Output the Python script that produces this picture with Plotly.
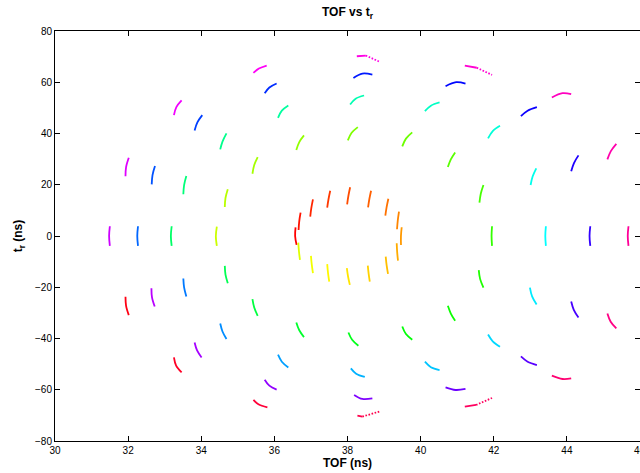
import colorsys
import plotly.graph_objects as go

# Each ring: 16 arcs, each arc given as (start, middle, end) points.
# Arc order: clockwise starting at the left (t_r = 0) end of the ring.
ring1_x = [(36.608, 36.567, 36.58), (36.662, 36.68, 36.717), (36.981, 37.01, 37.055), (37.445, 37.48, 37.527),
           (37.99, 38.025, 38.072), (38.563, 38.598, 38.645), (39.035, 39.07, 39.117), (39.354, 39.375, 39.408),
           (39.463, 39.462, 39.482), (39.346, 39.358, 39.381), (39.045, 39.07, 39.108), (38.555, 38.578, 38.61),
           (37.982, 38.015, 38.064), (37.445, 37.467, 37.5), (37.0, 37.022, 37.055), (36.654, 36.672, 36.70)]
ring1_y = [(-3.48, 0.0, 3.33), (2.36, 5.75, 9.1), (7.54, 10.9, 14.32), (11.05, 14.35, 17.67),
           (12.37, 15.7, 19.0), (11.2, 14.45, 17.67), (7.93, 11.25, 14.55), (2.63, 6.05, 9.49),
           (-3.48, 0.0, 3.41), (-2.82, -6.2, -9.6), (-8.04, -11.4, -14.78), (-11.55, -14.65, -17.78),
           (-12.56, -15.8, -19.07), (-11.0, -14.4, -17.78), (-7.77, -11.1, -14.5), (-2.59, -5.95, -9.33)]

ring2_x = [(34.426, 34.399, 34.426), (34.644, 34.663, 34.726), (35.40, 35.449, 35.544), (36.60, 36.681, 36.81),
           (38.009, 38.113, 38.282), (39.498, 39.599, 39.771), (40.745, 40.826, 40.944), (41.609, 41.645, 41.718),
           (41.953, 41.94, 41.953), (41.59, 41.626, 41.718), (40.745, 40.826, 40.944), (39.498, 39.599, 39.771),
           (38.025, 38.126, 38.298), (36.60, 36.681, 36.81), (35.40, 35.449, 35.544), (34.644, 34.663, 34.726)]
ring2_y = [(3.65, -0.09, -3.87), (11.32, 14.83, 18.22), (24.29, 27.68, 30.8), (33.53, 36.64, 39.25),
           (37.3, 40.26, 42.49), (34.97, 38.0, 40.42), (26.9, 29.9, 32.63), (13.0, 16.5, 19.89),
           (3.8, 0.0, -3.87), (-13.34, -16.73, -20.12), (-27.25, -30.25, -33.09), (-35.31, -38.27, -40.49),
           (-37.65, -40.49, -42.83), (-33.75, -36.79, -39.44), (-24.64, -27.91, -31.14), (-11.66, -15.05, -18.4)]

ring3_x = [(33.191, 33.169, 33.191), (33.51, 33.531, 33.592), (34.519, 34.581, 34.69), (36.10, 36.204, 36.381),
           (38.072, 38.222, 38.454), (40.117, 40.281, 40.518), (41.844, 41.972, 42.171), (43.008, 43.063, 43.163),
           (43.426, 43.41, 43.426), (42.989, 43.049, 43.172), (41.844, 41.972, 42.171), (40.117, 40.281, 40.518),
           (38.091, 38.236, 38.473), (36.10, 36.204, 36.381), (34.519, 34.581, 34.69), (33.51, 33.531, 33.592)]
ring3_y = [(3.8, 0.0, -3.87), (16.27, 19.89, 23.4), (33.8, 36.84, 40.03), (46.11, 48.91, 50.94),
           (51.33, 53.59, 54.83), (48.72, 50.86, 52.11), (38.08, 40.93, 42.99), (19.89, 23.2, 26.4),
           (3.8, 0.0, -3.87), (-20.12, -23.55, -26.74), (-38.43, -41.08, -43.22), (-49.06, -51.2, -52.3),
           (-51.67, -53.74, -55.02), (-46.33, -49.06, -51.28), (-34.14, -37.26, -40.22), (-16.61, -20.04, -23.62)]

ring4_x = [(32.27, 32.25, 32.27), (32.645, 32.667, 32.735), (33.818, 33.894, 34.028), (35.735, 35.863, 36.062),
           (38.162, 38.407, 38.68), (40.682, 40.971, 41.227), (42.743, 42.926, 43.18), (44.118, 44.194, 44.317),
           (44.64, 44.62, 44.64), (44.118, 44.189, 44.317), (42.743, 42.926, 43.18), (40.682, 40.955, 41.227),
           (38.181, 38.407, 38.68), (35.735, 35.863, 36.062), (33.818, 33.886, 34.009), (32.637, 32.653, 32.727)]
ring4_y = [(3.8, 0.0, -3.87), (20.16, 23.79, 27.29), (41.2, 44.32, 47.16), (55.73, 57.95, 59.51),
           (61.69, 63.4, 63.02), (58.46, 60.02, 59.51), (46.77, 48.91, 50.28), (25.23, 28.46, 31.46),
           (3.8, 0.0, -3.87), (-25.57, -28.8, -31.8), (-47.0, -49.06, -50.35), (-59.07, -60.09, -59.7),
           (-62.03, -63.59, -63.36), (-56.07, -58.41, -59.97), (-41.54, -44.66, -47.39), (-20.35, -23.93, -27.52)]

ring5_x = [(31.50, 31.48, 31.50), (31.928, 31.944, 32.018), (33.253, 33.319, 33.463), (35.427, 35.577, 35.79),
           (38.255, 38.5, 38.89), (41.208, 41.535, 41.953), (43.589, 43.881, 44.118), (45.108, 45.203, 45.353),
           (45.685, 45.665, 45.685), (45.108, 45.198, 45.353), (43.589, 43.881, 44.118), (41.208, 41.516, 41.953),
           (38.271, 38.407, 38.89), (35.427, 35.563, 35.809), (33.253, 33.313, 33.463), (31.928, 31.944, 32.018)]
ring5_y = [(3.8, 0.0, -3.87), (23.28, 26.9, 30.53), (47.16, 50.28, 52.89), (63.64, 65.35, 66.52),
           (70.14, 70.42, 67.92), (66.52, 65.66, 62.86), (54.06, 55.73, 55.34), (29.9, 33.14, 35.98),
           (3.8, 0.0, -3.87), (-30.25, -33.48, -36.09), (-54.51, -55.8, -55.57), (-66.59, -65.93, -63.2),
           (-70.1, -70.49, -68.42), (-63.98, -65.69, -66.86), (-47.39, -50.62, -53.23), (-23.74, -27.25, -30.87)]

# arcs (ring number, arc number) whose far half is thinly dotted in the picture
sparse_tails = [(5, 4), (5, 5), (5, 11), (5, 12)]

rings = [(ring1_x, ring1_y), (ring2_x, ring2_y), (ring3_x, ring3_y), (ring4_x, ring4_y), (ring5_x, ring5_y)]

x_ticks = [30, 32, 34, 36, 38, 40, 42, 44, 46]
y_ticks = [-80, -60, -40, -20, 0, 20, 40, 60, 80]

n_total = sum(len(rx) for rx, _ in rings)

fig = go.Figure()
k = 0
for ri, (rx, ry) in enumerate(rings, start=1):
    for ai, (ax, ay) in enumerate(zip(rx, ry)):
        r, g, b = colorsys.hsv_to_rgb(k / n_total, 1.0, 1.0)
        col = f"rgb({int(r*255)},{int(g*255)},{int(b*255)})"
        if (ri, ai) in sparse_tails:
            fig.add_trace(go.Scatter(x=list(ax[:2]), y=list(ay[:2]), mode="lines",
                                     line=dict(color=col, width=1.8),
                                     showlegend=False, hoverinfo="skip"))
            fig.add_trace(go.Scatter(x=list(ax[1:]), y=list(ay[1:]), mode="lines",
                                     line=dict(color=col, width=1.8, dash="1.6px,1.6px"),
                                     showlegend=False, hoverinfo="skip"))
        else:
            fig.add_trace(go.Scatter(x=list(ax), y=list(ay), mode="lines",
                                     line=dict(color=col, width=1.8, shape="spline"),
                                     showlegend=False, hoverinfo="skip"))
        k += 1

font = "Liberation Sans, Arial, Helvetica, sans-serif"
axis_common = dict(showgrid=False, zeroline=False, showline=True, linecolor="black", linewidth=1,
                   mirror="ticks", ticks="inside", ticklen=5, tickcolor="black", tickwidth=1,
                   tickfont=dict(family=font, size=10, color="black"))

fig.update_layout(
    width=640, height=473,
    margin=dict(l=55, r=0, t=31, b=32),
    paper_bgcolor="white", plot_bgcolor="white",
    title=dict(text="<b>TOF vs t<sub>r</sub></b>", x=0.5, xref="paper", xanchor="center",
               y=1 - 12 / 473, yref="container", yanchor="middle",
               font=dict(family=font, size=12, color="black")),
    xaxis=dict(range=[30, 46], tickvals=x_ticks, **axis_common,
               title=dict(text="<b>TOF (ns)</b>", standoff=3, font=dict(family=font, size=12, color="black"))),
    yaxis=dict(range=[-80, 80], tickvals=y_ticks, **axis_common,
               title=dict(text="<b>t<sub>r</sub> (ns)</b>", standoff=9, font=dict(family=font, size=12, color="black"))),
)

# the last x tick label sits on the window edge and is cut in the picture
fig.add_annotation(x=x_ticks[-1], xref="x", y=0, yref="paper", yanchor="top", yshift=-2,
                   text=str(x_ticks[-1]), showarrow=False,
                   font=dict(family=font, size=10, color="black"))

fig.write_html("out.html")
